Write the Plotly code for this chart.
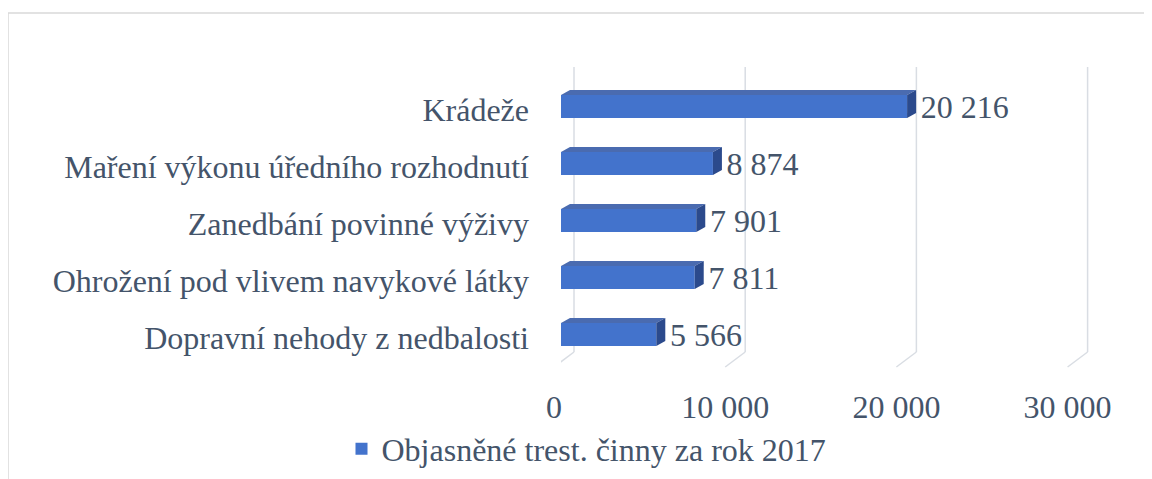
import plotly.graph_objects as go

categories = ["Dopravní nehody z nedbalosti", "Ohrožení pod vlivem navykové látky",
              "Zanedbání povinné výživy", "Maření výkonu úředního rozhodnutí", "Krádeže"]
values = [5566, 7811, 7901, 8874, 20216]
series_name = "Objasněné trest. činny za rok 2017"
tick_vals = [0, 10000, 20000, 30000]
tick_text = ["0", "10 000", "20 000", "30 000"]

# the page has an 8px body margin, so the figure is sized to fit the window
OFF = 8
W, H = 1144, 471
L, R, T, B = 553, 62, 70, 116
font_family = "Liberation Serif, Times New Roman, serif"
text_color = "#44546A"
grid_color = "#D9DDE3"
x_max = 30900
bar_w = 0.40
pw = W - L - R
ph = H - T - B
ux = x_max / pw            # data units per pixel (x)
uy = len(categories) / ph  # category units per pixel (y)
plot_bottom_page = OFF + H - B


def py(y_page):
    """page pixel row -> paper y"""
    return (plot_bottom_page - y_page) / ph


fig = go.Figure()
fig.add_trace(go.Bar(
    y=categories, x=values, orientation="h", name=series_name,
    marker=dict(color="#4373CC", line=dict(width=0)),
    width=bar_w,
    text=values, texttemplate="\u2004%{x:,}", textposition="outside",
    constraintext="none",
    textfont=dict(family=font_family, size=32, color=text_color),
    cliponaxis=False,
))

# pseudo-3D walls / gridlines (back plane +13px, front plane -7px)
back_dx, front_dx = 13 * ux, -7 * ux
for v in tick_vals:
    fig.add_shape(type="line", xref="x", yref="paper",
                  x0=v + back_dx, x1=v + back_dx, y0=py(67), y1=py(352),
                  line=dict(color=grid_color, width=1.5), layer="below")
    fig.add_shape(type="line", xref="x", yref="paper",
                  x0=v + back_dx, x1=v + front_dx, y0=py(352), y1=py(367),
                  line=dict(color=grid_color, width=1.5), layer="below")
fig.add_shape(type="line", xref="x", yref="paper",
              x0=tick_vals[0] + front_dx, x1=tick_vals[0] + front_dx, y0=py(82), y1=py(367),
              line=dict(color=grid_color, width=1.5), layer="below")

# pseudo-3D bar faces (top and right side)
dx, dy = 9 * ux, 5 * uy
for i, v in enumerate(values):
    y0, y1 = i - bar_w / 2, i + bar_w / 2
    top = f"M 0 {y1} L {v} {y1} L {v + dx} {y1 + dy} L {dx} {y1 + dy} Z"
    side = f"M {v} {y0} L {v} {y1} L {v + dx} {y1 + dy} L {v + dx} {y0 + dy} Z"
    fig.add_shape(type="path", xref="x", yref="y", path=top,
                  fillcolor="#4A6BB0", line=dict(width=0), layer="above")
    fig.add_shape(type="path", xref="x", yref="y", path=side,
                  fillcolor="#2B4A8C", line=dict(width=0), layer="above")

# chart border
fig.add_shape(type="rect", xref="paper", yref="paper",
              x0=(0 - L) / pw, x1=(W + 20 - L) / pw,
              y0=py(500), y1=py(13),
              line=dict(color="#D9D9D9", width=1.5), layer="below")

fig.update_layout(
    width=W, height=H,
    margin=dict(l=L, r=R, t=T, b=B, autoexpand=False),
    paper_bgcolor="white", plot_bgcolor="white",
    separators=", ",
    font=dict(family=font_family, size=32, color=text_color),
    showlegend=True,
    legend=dict(orientation="h", x=(586.5 - OFF - L) / pw, xanchor="center",
                y=py(449), yanchor="middle",
                font=dict(family=font_family, size=32, color=text_color),
                itemwidth=30),
)
fig.update_xaxes(range=[0, x_max], tickvals=tick_vals, ticktext=tick_text,
                 showgrid=False, zeroline=False, showline=False, ticks="",
                 automargin=False,
                 tickfont=dict(family=font_family, size=32, color=text_color),
                 ticklabelstandoff=22, ticklabelshift=-7)
fig.update_yaxes(showgrid=False, showline=False, ticks="", automargin=False,
                 tickfont=dict(family=font_family, size=32, color=text_color),
                 ticklabelstandoff=31, ticklabelshift=3)

fig.write_html("out.html")
